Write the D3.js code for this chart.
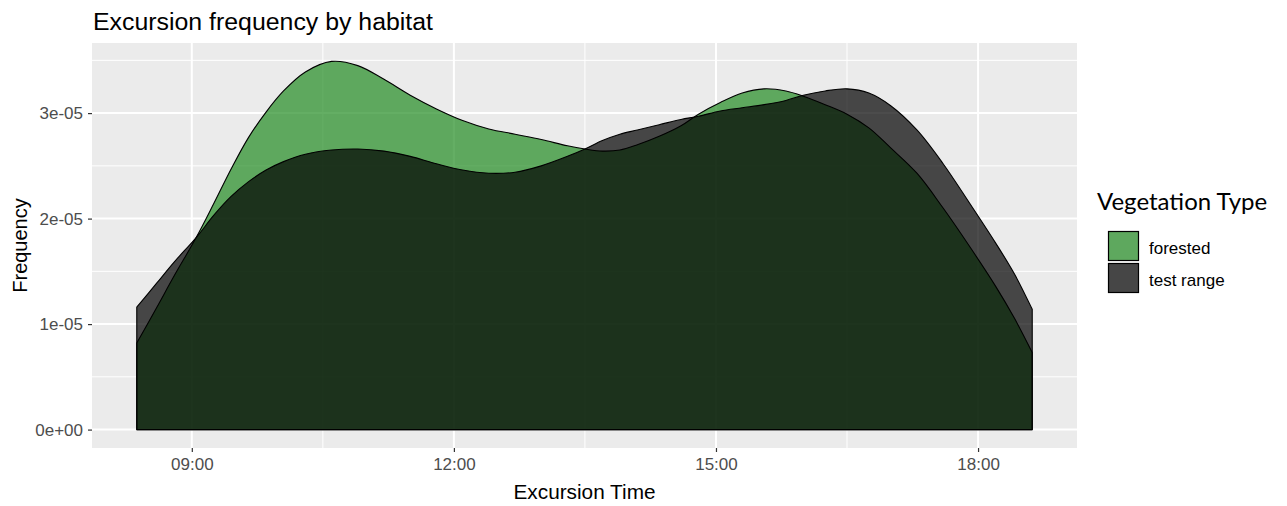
<!DOCTYPE html>
<html>
<head>
<meta charset="utf-8">
<script src="https://cdn.jsdelivr.net/npm/d3@7"></script>
<style>
  html, body { margin: 0; padding: 0; background: #ffffff; }
  svg { display: block; }
</style>
</head>
<body>
<svg id="chart" width="1287" height="506"></svg>
<script>
// ---- data ----
const chartTitle = "Excursion frequency by habitat";
const xTitle = "Excursion Time";
const yTitle = "Frequency";
const legendTitle = "Vegetation Type";
const categories = ["forested", "test range"];

// excursion time in decimal hours
const times = [8.37, 8.6, 8.8, 9.05, 9.25, 9.45, 9.65, 9.85, 10.05, 10.3, 10.6, 10.9, 11.2, 11.5, 11.8,
  12.1, 12.4, 12.7, 13.0, 13.3, 13.5, 13.7, 13.9, 14.1, 14.35, 14.6, 14.8, 15.05, 15.3, 15.55,
  15.8, 16.0, 16.25, 16.5, 16.75, 17.0, 17.3, 17.6, 17.9, 18.2, 18.42, 18.62];

const forestedDensity = [0.82e-5, 1.16e-5, 1.46e-5, 1.82e-5, 2.14e-5, 2.47e-5, 2.77e-5, 3.01e-5, 3.21e-5, 3.39e-5,
  3.49e-5, 3.45e-5, 3.32e-5, 3.17e-5, 3.04e-5, 2.93e-5, 2.85e-5, 2.80e-5, 2.75e-5, 2.69e-5,
  2.66e-5, 2.64e-5, 2.65e-5, 2.70e-5, 2.78e-5, 2.88e-5, 2.99e-5, 3.10e-5, 3.19e-5, 3.23e-5,
  3.21e-5, 3.16e-5, 3.08e-5, 2.99e-5, 2.86e-5, 2.67e-5, 2.43e-5, 2.10e-5, 1.74e-5, 1.36e-5,
  1.05e-5, 0.73e-5];

const testRangeDensity = [1.16e-5, 1.39e-5, 1.59e-5, 1.82e-5, 2.03e-5, 2.21e-5, 2.35e-5, 2.46e-5, 2.54e-5, 2.61e-5,
  2.65e-5, 2.66e-5, 2.64e-5, 2.59e-5, 2.52e-5, 2.46e-5, 2.43e-5, 2.44e-5, 2.50e-5, 2.59e-5,
  2.66e-5, 2.74e-5, 2.80e-5, 2.84e-5, 2.89e-5, 2.94e-5, 2.97e-5, 3.02e-5, 3.05e-5, 3.08e-5,
  3.12e-5, 3.17e-5, 3.21e-5, 3.23e-5, 3.19e-5, 3.07e-5, 2.84e-5, 2.52e-5, 2.15e-5, 1.77e-5,
  1.47e-5, 1.14e-5];

const xTicks = [9, 12, 15, 18];
const xTickLabels = ["09:00", "12:00", "15:00", "18:00"];
const xMinor = [7.5, 10.5, 13.5, 16.5, 19.5];
const yTicks = [0, 1e-5, 2e-5, 3e-5];
const yTickLabels = ["0e+00", "1e-05", "2e-05", "3e-05"];
const yMinor = [0.5e-5, 1.5e-5, 2.5e-5, 3.5e-5];

const fillColors = ["#228B22", "#000000"];
const fillAlpha = 0.7;

// ---- layout ----
const svg = d3.select("#chart");
const panel = { left: 92, right: 1077, top: 43, bottom: 448 };

const xMin = d3.min(times), xMax = d3.max(times);
const xPad = (xMax - xMin) * 0.05;
const x = d3.scaleLinear().domain([xMin - xPad, xMax + xPad]).range([panel.left, panel.right]);

const yMax = d3.max([...forestedDensity, ...testRangeDensity]);
const y = d3.scaleLinear().domain([-0.05 * yMax, 1.05 * yMax]).range([panel.bottom, panel.top]);

const font = "'Liberation Sans', Arial, sans-serif";

// panel background
svg.append("rect")
  .attr("x", panel.left).attr("y", panel.top)
  .attr("width", panel.right - panel.left).attr("height", panel.bottom - panel.top)
  .attr("fill", "#EBEBEB");

const grid = svg.append("g");
// minor grid
grid.selectAll("line.ym").data(yMinor.filter(v => y(v) >= panel.top)).enter().append("line")
  .attr("x1", panel.left).attr("x2", panel.right)
  .attr("y1", d => y(d)).attr("y2", d => y(d))
  .attr("stroke", "#ffffff").attr("stroke-width", 1);
grid.selectAll("line.xm").data(xMinor.filter(v => x(v) >= panel.left && x(v) <= panel.right)).enter().append("line")
  .attr("y1", panel.top).attr("y2", panel.bottom)
  .attr("x1", d => x(d)).attr("x2", d => x(d))
  .attr("stroke", "#ffffff").attr("stroke-width", 1);
// major grid
grid.selectAll("line.yM").data(yTicks).enter().append("line")
  .attr("x1", panel.left).attr("x2", panel.right)
  .attr("y1", d => y(d)).attr("y2", d => y(d))
  .attr("stroke", "#ffffff").attr("stroke-width", 2);
grid.selectAll("line.xM").data(xTicks).enter().append("line")
  .attr("y1", panel.top).attr("y2", panel.bottom)
  .attr("x1", d => x(d)).attr("x2", d => x(d))
  .attr("stroke", "#ffffff").attr("stroke-width", 2);

// densities
const area = d3.area()
  .x(d => x(d[0]))
  .y0(y(0))
  .y1(d => y(d[1]))
  .curve(d3.curveCatmullRom.alpha(0.5));

const seriesData = [forestedDensity, testRangeDensity];
seriesData.forEach((vals, i) => {
  const pts = times.map((t, j) => [t, vals[j]]);
  svg.append("path")
    .attr("d", area(pts) + "Z")
    .attr("fill", fillColors[i])
    .attr("fill-opacity", fillAlpha)
    .attr("stroke", "#000000")
    .attr("stroke-width", 1.1)
    .attr("stroke-linejoin", "round");
});

// axes
const xAxis = d3.axisBottom(x).tickValues(xTicks)
  .tickFormat((d, i) => xTickLabels[i]).tickSize(4).tickPadding(6);
const gx = svg.append("g").attr("transform", `translate(0,${panel.bottom})`).call(xAxis);
gx.select(".domain").remove();
gx.selectAll(".tick line").attr("stroke", "#333333").attr("stroke-width", 1.2);
gx.selectAll(".tick text").attr("fill", "#4D4D4D").style("font-family", font).style("font-size", "17px");

const yAxis = d3.axisLeft(y).tickValues(yTicks)
  .tickFormat((d, i) => yTickLabels[i]).tickSize(4).tickPadding(5);
const gy = svg.append("g").attr("transform", `translate(${panel.left},0)`).call(yAxis);
gy.select(".domain").remove();
gy.selectAll(".tick line").attr("stroke", "#333333").attr("stroke-width", 1.2);
gy.selectAll(".tick text").attr("fill", "#4D4D4D").style("font-family", font).style("font-size", "17px");

// titles
svg.append("text").attr("x", panel.left + 1).attr("y", 30)
  .attr("textLength", 340).attr("lengthAdjust", "spacingAndGlyphs")
  .style("font-family", font).style("font-size", "23px").attr("fill", "#000")
  .text(chartTitle);

svg.append("text").attr("x", (panel.left + panel.right) / 2).attr("y", 499)
  .attr("text-anchor", "middle")
  .attr("textLength", 142).attr("lengthAdjust", "spacingAndGlyphs")
  .style("font-family", font).style("font-size", "20px").attr("fill", "#000")
  .text(xTitle);

svg.append("text")
  .attr("transform", `translate(27,${(panel.top + panel.bottom) / 2}) rotate(-90)`)
  .attr("text-anchor", "middle")
  .style("font-family", font).style("font-size", "20px").attr("fill", "#000")
  .text(yTitle);

// legend
const lg = svg.append("g");
lg.append("text").attr("x", 1097).attr("y", 210)
  .style("font-family", "Lato, 'Open Sans', sans-serif").style("font-size", "24px").attr("fill", "#000")
  .text(legendTitle);

categories.forEach((c, i) => {
  const ky = 231 + i * 32;
  lg.append("rect").attr("x", 1108).attr("y", ky).attr("width", 31).attr("height", 30).attr("fill", "#EBEBEB");
  lg.append("rect").attr("x", 1108.5).attr("y", ky + 0.5).attr("width", 30).attr("height", 29)
    .attr("fill", fillColors[i]).attr("fill-opacity", fillAlpha)
    .attr("stroke", "#000").attr("stroke-width", 1.2);
  lg.append("text").attr("x", 1149).attr("y", ky + 17).attr("dy", "0.35em")
    .style("font-family", font).style("font-size", "17px").attr("fill", "#000")
    .text(c);
});
</script>
</body>
</html>
